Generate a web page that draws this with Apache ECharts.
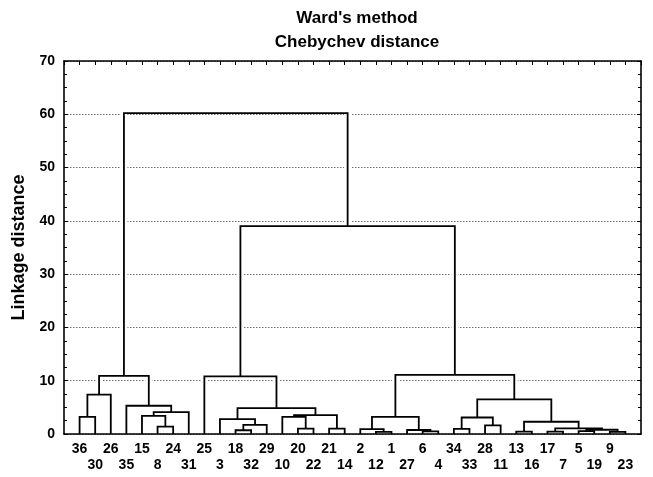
<!DOCTYPE html>
<html>
<head>
<meta charset="utf-8">
<script src="https://cdn.jsdelivr.net/npm/echarts@6/dist/echarts.min.js"></script>
<style>
  html, body { margin: 0; padding: 0; background: #fff; }
  #chart { width: 653px; height: 477px; }
</style>
</head>
<body>
<div id="chart"></div>
<script>
// Leaf order along the horizontal axis (case numbers)
const leafOrder = [36, 30, 26, 35, 15, 8, 24, 31, 25, 3, 18, 32, 29, 10, 20, 22, 21, 14,
                   2, 12, 1, 27, 6, 4, 34, 33, 28, 11, 13, 16, 17, 7, 5, 19, 9, 23];

// Agglomeration steps: [left, right, linkage distance].
// Numbers are case numbers, '#k' refers to the cluster formed at step k.
const linkage = [
  [36, 30, 3.2],        // 0
  ['#0', 26, 7.4],      // 1
  [8, 24, 1.4],         // 2
  [15, '#2', 3.4],      // 3
  ['#3', 31, 4.1],      // 4
  [35, '#4', 5.3],      // 5
  ['#1', '#5', 10.9],   // 6
  [18, 32, 0.7],        // 7
  ['#7', 29, 1.7],      // 8
  [3, '#8', 2.8],       // 9
  [20, 22, 1.0],        // 10
  [10, '#10', 3.2],     // 11
  [21, 14, 1.0],        // 12
  ['#11', '#12', 3.55], // 13
  ['#9', '#13', 4.85],  // 14
  [25, '#14', 10.8],    // 15
  [12, 1, 0.4],         // 16
  [2, '#16', 0.9],      // 17
  [6, 4, 0.5],          // 18
  [27, '#18', 0.75],    // 19
  ['#17', '#19', 3.2],  // 20
  [34, 33, 0.95],       // 21
  [28, 11, 1.6],        // 22
  ['#21', '#22', 3.1],  // 23
  [13, 16, 0.45],       // 24
  [17, 7, 0.45],        // 25
  [5, 19, 0.55],        // 26
  [9, 23, 0.4],         // 27
  ['#26', '#27', 0.8],  // 28
  ['#25', '#28', 1.05], // 29
  ['#24', '#29', 2.3],  // 30
  ['#23', '#30', 6.5],  // 31
  ['#20', '#31', 11.1], // 32
  ['#15', '#32', 39.0], // 33
  ['#6', '#33', 60.2]   // 34
];

const yTicks = [0, 10, 20, 30, 40, 50, 60, 70];

const FONT = "'Liberation Sans', Arial, sans-serif";

// Leaf positions: 1..n on the x value axis
const leafX = {};
leafOrder.forEach((lab, i) => { leafX[lab] = i + 1; });

// Resolve each merge into a node position and a U-shaped link
const nodes = [];
const links = [];
function resolve(ref) {
  if (typeof ref === 'string') return nodes[+ref.slice(1)];
  return { x: leafX[ref], h: 0 };
}
linkage.forEach(([a, b, h]) => {
  const l = resolve(a), r = resolve(b);
  links.push([l.x, l.h, r.x, r.h, h]);
  nodes.push({ x: (l.x + r.x) / 2, h: h });
});

// White masks behind the vertical strokes so the dotted grid breaks around them
const masks = [];
links.forEach(([xl, hl, xr, hr, h]) => {
  if (h > 8) {
    masks.push([xl, Math.max(hl, 8), h]);
    masks.push([xr, Math.max(hr, 8), h]);
  }
});

const chart = echarts.init(document.getElementById('chart'), null, { renderer: 'canvas' });

const axisLineStyle = { color: '#000', width: 1.6 };
const tickStyle = { color: '#000', width: 1 };

chart.setOption({
  animation: false,
  backgroundColor: '#fff',
  title: {
    text: "Ward's method\nChebychev distance",
    left: 352,
    top: 1,
    textAlign: 'center',
    textStyle: { fontFamily: FONT, fontWeight: 'bold', fontSize: 17, lineHeight: 24, color: '#000' }
  },
  grid: { left: 64, right: 12, top: 61, bottom: 43, containLabel: false },
  xAxis: [
    {
      type: 'value', position: 'bottom', min: 0, max: leafOrder.length + 1, interval: 1,
      axisLine: { show: true, onZero: false, lineStyle: axisLineStyle },
      axisTick: { show: false },
      splitLine: { show: false },
      axisLabel: {
        margin: 7,
        fontFamily: FONT, fontSize: 14, fontWeight: 'bold', color: '#000', lineHeight: 16,
        formatter: function (v) {
          const i = Math.round(v) - 1;
          if (i < 0 || i >= leafOrder.length) return '';
          return i % 2 === 0 ? String(leafOrder[i]) : '\n' + leafOrder[i];
        }
      }
    },
    {
      type: 'value', position: 'top', min: 0, max: leafOrder.length + 1, interval: 1,
      axisLine: { show: true, onZero: false, lineStyle: axisLineStyle },
      axisTick: { show: true, inside: true, length: 4, lineStyle: tickStyle },
      axisLabel: { show: false },
      splitLine: { show: false }
    }
  ],
  yAxis: [
    {
      type: 'value', position: 'left', min: yTicks[0], max: yTicks[yTicks.length - 1], interval: 10,
      name: 'Linkage distance', nameLocation: 'middle', nameGap: 32,
      nameTextStyle: { fontFamily: FONT, fontWeight: 'bold', fontSize: 18, color: '#000' },
      axisLine: { show: true, onZero: false, lineStyle: axisLineStyle },
      axisTick: { show: true, inside: true, length: 4, lineStyle: tickStyle },
      minorTick: { show: true, splitNumber: 4, length: 3, lineStyle: tickStyle },
      splitLine: { show: true, lineStyle: { color: '#6e6e6e', width: 1, type: [1.5, 1.5] } },
      axisLabel: { margin: 9, fontFamily: FONT, fontSize: 14, fontWeight: 'bold', color: '#000' }
    },
    {
      type: 'value', position: 'right', min: yTicks[0], max: yTicks[yTicks.length - 1], interval: 10,
      axisLine: { show: true, onZero: false, lineStyle: axisLineStyle },
      axisTick: { show: true, inside: true, length: 4, lineStyle: tickStyle },
      minorTick: { show: true, splitNumber: 4, length: 3, lineStyle: tickStyle },
      splitLine: { show: false },
      axisLabel: { show: false }
    }
  ],
  series: [
    {
      type: 'custom',
      coordinateSystem: 'cartesian2d',
      z: 3,
      data: masks,
      renderItem: function (params, api) {
        const p1 = api.coord([api.value(0), api.value(1)]);
        const p2 = api.coord([api.value(0), api.value(2)]);
        return {
          type: 'line',
          shape: { x1: p1[0], y1: p1[1], x2: p2[0], y2: p2[1] },
          style: { stroke: '#fff', lineWidth: 7 }
        };
      },
      silent: true
    },
    {
      type: 'custom',
      coordinateSystem: 'cartesian2d',
      z: 4,
      data: links,
      renderItem: function (params, api) {
        const xl = api.value(0), hl = api.value(1), xr = api.value(2), hr = api.value(3), h = api.value(4);
        const pts = [api.coord([xl, hl]), api.coord([xl, h]), api.coord([xr, h]), api.coord([xr, hr])];
        return {
          type: 'polyline',
          shape: { points: pts },
          style: { stroke: '#000', lineWidth: 1.8, fill: null, lineJoin: 'miter' }
        };
      },
      silent: true
    }
  ]
});
</script>
</body>
</html>
